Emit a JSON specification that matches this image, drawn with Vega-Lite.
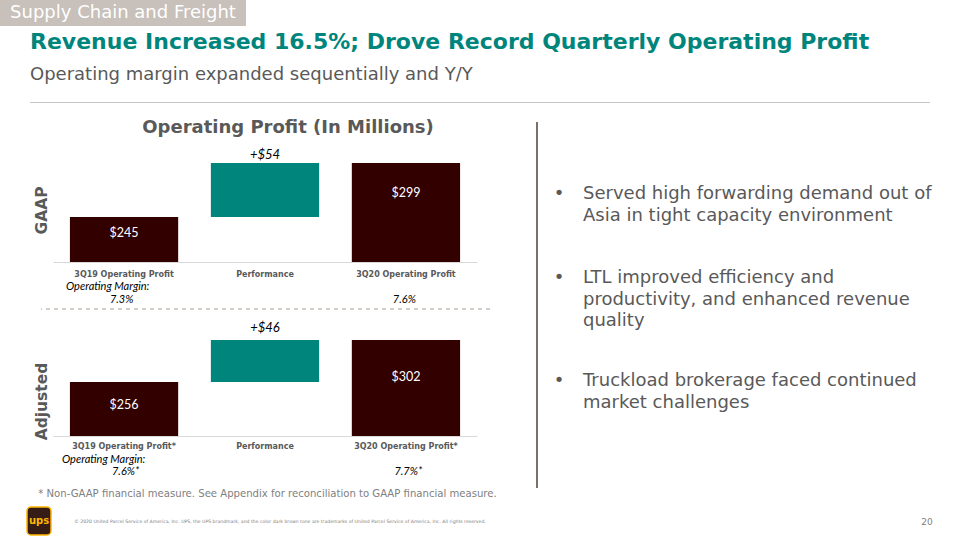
{
  "$schema": "https://vega.github.io/schema/vega-lite/v6.json",
  "background": "white",
  "padding": 0,
  "spacing": 0,
  "bounds": "flush",
  "config": {"view": {"stroke": null}, "font": "DejaVu Sans"},
  "datasets": {
    "gaap": [
      {"cat": "3Q19 Operating Profit", "start": 0, "end": 245, "label": "$245", "kind": "total"},
      {"cat": "Performance", "start": 245, "end": 299, "label": "+$54", "kind": "delta"},
      {"cat": "3Q20 Operating Profit", "start": 0, "end": 299, "label": "$299", "kind": "total"}
    ],
    "adjusted": [
      {"cat": "3Q19 Operating Profit*", "start": 0, "end": 256, "label": "$256", "kind": "total"},
      {"cat": "Performance", "start": 256, "end": 302, "label": "+$46", "kind": "delta"},
      {"cat": "3Q20 Operating Profit*", "start": 0, "end": 302, "label": "$302", "kind": "total"}
    ],
    "gaapMargins": [
      {"cat": "3Q19 Operating Profit", "line": 1, "text": "Operating Margin:"},
      {"cat": "3Q19 Operating Profit", "line": 2, "text": "7.3%"},
      {"cat": "3Q20 Operating Profit", "line": 2, "text": "7.6%"}
    ],
    "adjMargins": [
      {"cat": "3Q19 Operating Profit*", "line": 1, "text": "Operating Margin:"},
      {"cat": "3Q19 Operating Profit*", "line": 2, "text": "7.6%*"},
      {"cat": "3Q20 Operating Profit*", "line": 2, "text": "7.7%*"}
    ],
    "bullets": [
      {"b": 1, "text": "Served high forwarding demand out of\nAsia in tight capacity environment"},
      {"b": 2, "text": "LTL improved efficiency and\nproductivity, and enhanced revenue\nquality"},
      {"b": 3, "text": "Truckload brokerage faced continued\nmarket challenges"}
    ]
  },
  "vconcat": [
    {
      "width": 246, "height": 26,
      "view": {"fill": "#c8c0ba", "stroke": null},
      "data": {"values": [{}]},
      "mark": {"type": "text", "text": "Supply Chain and Freight", "font": "DejaVu Sans", "fontSize": 18, "color": "white", "align": "center", "baseline": "middle"}
    },
    {"width": 1, "height": 76, "data": {"values": [{}]}, "mark": {"type": "text", "text": ""}},
    {
      "hconcat": [
        {"width": 30, "height": 1, "data": {"values": [{}]}, "mark": {"type": "text", "text": ""}},
        {
          "width": 900, "height": 1,
          "view": {"fill": "#c4c4c4", "stroke": null},
          "title": {
            "text": "Revenue Increased 16.5%; Drove Record Quarterly Operating Profit",
            "subtitle": "Operating margin expanded sequentially and Y/Y",
            "anchor": "start", "frame": "group", "offset": 11.3,
            "font": "DejaVu Sans", "fontSize": 22, "fontWeight": "bold", "color": "#00857d",
            "subtitleFont": "DejaVu Sans", "subtitleFontSize": 18, "subtitleColor": "#595959", "subtitlePadding": 12.7
          },
          "data": {"values": [{}]},
          "mark": {"type": "text", "text": ""}
        }
      ],
      "spacing": 0, "bounds": "flush"
    },
    {
      "hconcat": [
        {"width": 41, "height": 1, "data": {"values": [{}]}, "mark": {"type": "text", "text": ""}},
        {
          "vconcat": [
            {"width": 1, "height": 207, "data": {"values": [{}]}, "mark": {"type": "text", "text": ""}},
            {
              "width": 449, "height": 1,
              "data": {"values": [{}]},
              "mark": {"type": "rule", "color": "#a89e94", "strokeDash": [4, 4], "strokeWidth": 1},
              "encoding": {"y": {"value": 0}}
            },
            {"width": 1, "height": 177, "data": {"values": [{}]}, "mark": {"type": "text", "text": ""}},
            {
              "width": 453, "height": 14,
              "data": {"values": [{"note": "* Non-GAAP financial measure. See Appendix for reconciliation to GAAP financial measure."}]},
              "mark": {"type": "text", "font": "DejaVu Sans", "fontSize": 10.1, "color": "#808080", "align": "center", "baseline": "middle"},
              "encoding": {"text": {"field": "note", "type": "nominal"}}
            }
          ],
          "spacing": 0, "bounds": "flush"
        },
        {"width": 12, "height": 1, "data": {"values": [{}]}, "mark": {"type": "text", "text": ""}},
        {
          "vconcat": [
            {"width": 1, "height": 40, "data": {"values": [{}]}, "mark": {"type": "text", "text": ""}},
            {
              "width": 424, "height": 120,
              "data": {"name": "gaap"},
              "title": {"text": "Operating Profit (In Millions)", "anchor": "middle", "frame": "group", "dx": 23, "offset": 5, "font": "DejaVu Sans", "fontSize": 18, "fontWeight": "bold", "color": "#595959"},
              "encoding": {
                "x": {
                  "field": "cat", "type": "nominal", "sort": null,
                  "scale": {"domain": ["3Q19 Operating Profit", "Performance", "3Q20 Operating Profit"], "paddingInner": 0.232, "paddingOuter": 0.12},
                  "axis": {"title": null, "labelAngle": 0, "labelFont": "DejaVu Sans", "labelFontSize": 8, "labelFontWeight": "bold", "labelColor": "#595959", "labelPadding": 8, "ticks": false, "domainColor": "#d9d9d9", "domainWidth": 1, "labelOverlap": false, "labelLimit": 0, "grid": false}
                },
                "y": {
                  "field": "end", "type": "quantitative",
                  "scale": {"domain": [200, 320], "zero": false, "nice": false},
                  "axis": {"title": "GAAP", "labels": false, "ticks": false, "domain": false, "grid": false, "titleFont": "DejaVu Sans", "titleFontSize": 15.5, "titleFontWeight": "bold", "titleColor": "#595959", "titlePadding": 4, "titleY": 68}
                }
              },
              "layer": [
                {
                  "mark": {"type": "bar", "clip": true},
                  "encoding": {
                    "y2": {"field": "start"},
                    "color": {"field": "kind", "type": "nominal", "scale": {"domain": ["total", "delta"], "range": ["#330000", "#00857d"]}, "legend": null}
                  }
                },
                {
                  "transform": [{"filter": "datum.cat === '3Q19 Operating Profit'"}],
                  "mark": {"type": "text", "font": "Lato", "fontSize": 12.5, "color": "white", "baseline": "middle", "dy": 16},
                  "encoding": {"text": {"field": "label", "type": "nominal"}}
                },
                {
                  "transform": [{"filter": "datum.cat === '3Q20 Operating Profit'"}],
                  "mark": {"type": "text", "font": "Lato", "fontSize": 12.5, "color": "white", "baseline": "middle", "dy": 30},
                  "encoding": {"text": {"field": "label", "type": "nominal"}}
                },
                {
                  "transform": [{"filter": "datum.kind === 'delta'"}],
                  "mark": {"type": "text", "font": "Lato", "fontStyle": "italic", "fontSize": 13, "color": "black", "baseline": "middle", "dy": -8},
                  "encoding": {"text": {"field": "label", "type": "nominal"}}
                }
              ]
            },
            {"width": 1, "height": 25, "data": {"values": [{}]}, "mark": {"type": "text", "text": ""}},
            {
              "width": 424, "height": 13,
              "data": {"name": "gaapMargins"},
              "encoding": {
                "x": {"field": "cat", "type": "nominal", "sort": null, "scale": {"domain": ["3Q19 Operating Profit", "Performance", "3Q20 Operating Profit"], "paddingInner": 0.232, "paddingOuter": 0.12}, "axis": null},
                "y": {"field": "line", "type": "ordinal", "scale": {"type": "point", "padding": 0}, "axis": null},
                "text": {"field": "text", "type": "nominal"}
              },
              "layer": [
                {"transform": [{"filter": "datum.line === 1"}], "mark": {"type": "text", "font": "Lato", "fontStyle": "italic", "fontSize": 11, "color": "black", "baseline": "middle", "dx": -16}},
                {"transform": [{"filter": "datum.line === 2"}], "mark": {"type": "text", "font": "Lato", "fontStyle": "italic", "fontSize": 11, "color": "black", "baseline": "middle", "dx": -2}}
              ]
            },
            {"width": 1, "height": 15, "data": {"values": [{}]}, "mark": {"type": "text", "text": ""}},
            {
              "width": 424, "height": 121,
              "data": {"name": "adjusted"},
              "encoding": {
                "x": {
                  "field": "cat", "type": "nominal", "sort": null,
                  "scale": {"domain": ["3Q19 Operating Profit*", "Performance", "3Q20 Operating Profit*"], "paddingInner": 0.232, "paddingOuter": 0.12},
                  "axis": {"title": null, "labelAngle": 0, "labelFont": "DejaVu Sans", "labelFontSize": 8, "labelFontWeight": "bold", "labelColor": "#595959", "labelPadding": 6.5, "ticks": false, "domainColor": "#d9d9d9", "domainWidth": 1, "labelOverlap": false, "labelLimit": 0, "grid": false}
                },
                "y": {
                  "field": "end", "type": "quantitative",
                  "scale": {"domain": [197, 329.5], "zero": false, "nice": false},
                  "axis": {"title": "Adjusted", "labels": false, "ticks": false, "domain": false, "grid": false, "titleFont": "DejaVu Sans", "titleFontSize": 15.5, "titleFontWeight": "bold", "titleColor": "#595959", "titlePadding": 4, "titleY": 86}
                }
              },
              "layer": [
                {
                  "mark": {"type": "bar", "clip": true},
                  "encoding": {
                    "y2": {"field": "start"},
                    "color": {"field": "kind", "type": "nominal", "scale": {"domain": ["total", "delta"], "range": ["#330000", "#00857d"]}, "legend": null}
                  }
                },
                {
                  "transform": [{"filter": "datum.cat === '3Q19 Operating Profit*'"}],
                  "mark": {"type": "text", "font": "Lato", "fontSize": 12.5, "color": "white", "baseline": "middle", "dy": 23},
                  "encoding": {"text": {"field": "label", "type": "nominal"}}
                },
                {
                  "transform": [{"filter": "datum.cat === '3Q20 Operating Profit*'"}],
                  "mark": {"type": "text", "font": "Lato", "fontSize": 12.5, "color": "white", "baseline": "middle", "dy": 37},
                  "encoding": {"text": {"field": "label", "type": "nominal"}}
                },
                {
                  "transform": [{"filter": "datum.kind === 'delta'"}],
                  "mark": {"type": "text", "font": "Lato", "fontStyle": "italic", "fontSize": 13, "color": "black", "baseline": "middle", "dy": -12},
                  "encoding": {"text": {"field": "label", "type": "nominal"}}
                }
              ]
            },
            {"width": 1, "height": 24, "data": {"values": [{}]}, "mark": {"type": "text", "text": ""}},
            {
              "width": 424, "height": 12,
              "data": {"name": "adjMargins"},
              "encoding": {
                "x": {"field": "cat", "type": "nominal", "sort": null, "scale": {"domain": ["3Q19 Operating Profit*", "Performance", "3Q20 Operating Profit*"], "paddingInner": 0.232, "paddingOuter": 0.12}, "axis": null},
                "y": {"field": "line", "type": "ordinal", "scale": {"type": "point", "padding": 0}, "axis": null},
                "text": {"field": "text", "type": "nominal"}
              },
              "layer": [
                {"transform": [{"filter": "datum.line === 1"}], "mark": {"type": "text", "font": "Lato", "fontStyle": "italic", "fontSize": 11, "color": "black", "baseline": "middle", "dx": -20}},
                {"transform": [{"filter": "datum.line === 2"}], "mark": {"type": "text", "font": "Lato", "fontStyle": "italic", "fontSize": 11, "color": "black", "baseline": "middle", "dx": 2}}
              ]
            }
          ],
          "spacing": 0, "bounds": "flush"
        },
        {"width": 483, "height": 1, "data": {"values": [{}]}, "mark": {"type": "text", "text": ""}},
        {
          "vconcat": [
            {"width": 1, "height": 20, "data": {"values": [{}]}, "mark": {"type": "text", "text": ""}},
            {"width": 2, "height": 366, "view": {"fill": "#7d7066", "stroke": null}, "data": {"values": [{}]}, "mark": {"type": "text", "text": ""}}
          ],
          "spacing": 0, "bounds": "flush"
        },
        {"width": 4, "height": 1, "data": {"values": [{}]}, "mark": {"type": "text", "text": ""}},
        {
          "vconcat": [
            {"width": 1, "height": 96, "data": {"values": [{}]}, "mark": {"type": "text", "text": ""}},
            {
              "width": 86, "height": 2,
              "data": {"name": "bullets"},
              "transform": [{"filter": "datum.b === 1"}],
              "layer": [
                {"mark": {"type": "text", "text": "•", "font": "DejaVu Sans", "fontSize": 18, "color": "#595959", "align": "center", "baseline": "alphabetic", "dx": -24}},
                {"mark": {"type": "text", "font": "DejaVu Sans", "fontSize": 18, "color": "#595959", "align": "left", "baseline": "alphabetic", "lineBreak": "\n", "lineHeight": 21.5}, "encoding": {"text": {"field": "text", "type": "nominal"}}}
              ]
            },
            {"width": 1, "height": 82, "data": {"values": [{}]}, "mark": {"type": "text", "text": ""}},
            {
              "width": 86, "height": 2,
              "data": {"name": "bullets"},
              "transform": [{"filter": "datum.b === 2"}],
              "layer": [
                {"mark": {"type": "text", "text": "•", "font": "DejaVu Sans", "fontSize": 18, "color": "#595959", "align": "center", "baseline": "alphabetic", "dx": -24}},
                {"mark": {"type": "text", "font": "DejaVu Sans", "fontSize": 18, "color": "#595959", "align": "left", "baseline": "alphabetic", "lineBreak": "\n", "lineHeight": 21.5}, "encoding": {"text": {"field": "text", "type": "nominal"}}}
              ]
            },
            {"width": 1, "height": 101, "data": {"values": [{}]}, "mark": {"type": "text", "text": ""}},
            {
              "width": 86, "height": 2,
              "data": {"name": "bullets"},
              "transform": [{"filter": "datum.b === 3"}],
              "layer": [
                {"mark": {"type": "text", "text": "•", "font": "DejaVu Sans", "fontSize": 18, "color": "#595959", "align": "center", "baseline": "alphabetic", "dx": -24}},
                {"mark": {"type": "text", "font": "DejaVu Sans", "fontSize": 18, "color": "#595959", "align": "left", "baseline": "alphabetic", "lineBreak": "\n", "lineHeight": 21.5}, "encoding": {"text": {"field": "text", "type": "nominal"}}}
              ]
            }
          ],
          "spacing": 0, "bounds": "flush"
        }
      ],
      "spacing": 0, "bounds": "flush"
    },
    {"width": 1, "height": 405, "data": {"values": [{}]}, "mark": {"type": "text", "text": ""}},
    {
      "hconcat": [
        {"width": 27, "height": 1, "data": {"values": [{}]}, "mark": {"type": "text", "text": ""}},
        {
          "width": 24, "height": 28,
          "view": {"fill": "#351c15", "stroke": "#ffb500", "strokeWidth": 1.5, "cornerRadius": 4},
          "data": {"values": [{}]},
          "mark": {"type": "text", "text": "ups", "font": "DejaVu Sans", "fontWeight": "bold", "fontSize": 10, "color": "#ffb500", "align": "center", "baseline": "middle"}
        },
        {
          "width": 458, "height": 30,
          "data": {"values": [{"c": "© 2020 United Parcel Service of America, Inc. UPS, the UPS brandmark, and the color dark brown tone are trademarks of United Parcel Service of America, Inc. All rights reserved."}]},
          "mark": {"type": "text", "font": "DejaVu Sans", "fontSize": 4.6, "color": "#808080", "align": "center", "baseline": "middle"},
          "encoding": {"text": {"field": "c", "type": "nominal"}}
        },
        {"width": 408, "height": 1, "data": {"values": [{}]}, "mark": {"type": "text", "text": ""}},
        {
          "width": 20, "height": 30,
          "data": {"values": [{"p": "20"}]},
          "mark": {"type": "text", "font": "DejaVu Sans", "fontSize": 9, "color": "#808080", "align": "center", "baseline": "middle"},
          "encoding": {"text": {"field": "p", "type": "nominal"}}
        }
      ],
      "spacing": 0, "bounds": "flush"
    }
  ]
}
